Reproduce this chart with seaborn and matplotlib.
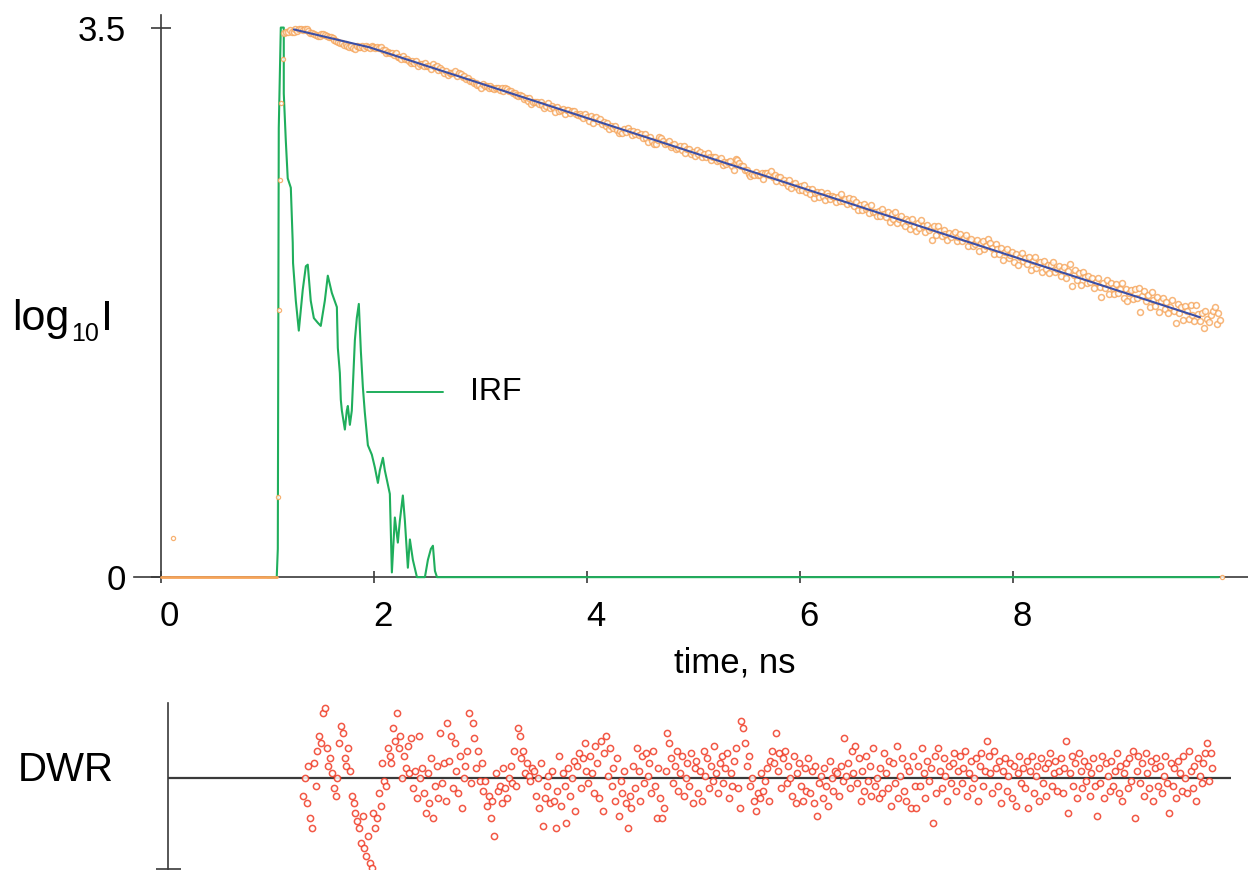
import numpy as np
import matplotlib
matplotlib.use("Agg")
import matplotlib.pyplot as plt
from matplotlib.transforms import ScaledTranslation
import seaborn as sns

# ---------------- data ----------------
X_TICKS = [0, 2, 4, 6, 8]
X_TICK_LABELS = ["0", "2", "4", "6", "8"]
Y_TICKS = [0, 3.5]
Y_TICK_LABELS = ["0", "3.5"]

# instrument response function (log10 counts)
IRF_T = [1.00, 1.089, 1.099, 1.108, 1.127, 1.155, 1.155, 1.174, 1.192, 1.221,
         1.239, 1.242, 1.268, 1.296, 1.333, 1.362, 1.380, 1.408, 1.437, 1.474,
         1.502, 1.540, 1.568, 1.606, 1.653, 1.662, 1.681, 1.690, 1.700, 1.728,
         1.746, 1.756, 1.775, 1.793, 1.822, 1.840, 1.859, 1.878, 1.897, 1.915,
         1.944, 1.981, 2.009, 2.038, 2.056, 2.085, 2.103, 2.122, 2.150, 2.169,
         2.197, 2.225, 2.244, 2.272, 2.291, 2.319, 2.338, 2.366, 2.404, 2.479,
         2.507, 2.535, 2.554, 2.573, 2.592, 9.925]
IRF_Y = [0, 0, 0.18, 2.86, 3.50, 3.50, 3.08, 2.78, 2.54, 2.48,
         2.13, 2.00, 1.76, 1.57, 1.83, 1.98, 1.99, 1.76, 1.65, 1.62,
         1.60, 1.76, 1.92, 1.81, 1.72, 1.46, 1.30, 1.13, 1.06, 0.94,
         1.06, 1.09, 0.97, 1.06, 1.51, 1.65, 1.74, 1.44, 1.21, 1.05,
         0.84, 0.78, 0.70, 0.60, 0.68, 0.76, 0.68, 0.62, 0.53, 0.03,
         0.38, 0.22, 0.36, 0.52, 0.36, 0.06, 0.24, 0.11, 0, 0,
         0.11, 0.18, 0.20, 0.04, 0, 0]

# fitted decay (log10 I) knots
FIT_T = [1.16, 1.25, 1.96, 9.75, 9.94]
FIT_Y = [3.47, 3.488, 3.374, 1.655, 1.613]
FIT_RANGE = (1.25, 9.75)

# decay data outside the fitted window
EDGE_T = [1.10, 1.11, 1.12, 1.13, 1.145]
EDGE_Y = [0.51, 1.70, 2.53, 3.02, 3.30]
STRAY_T = [0.12, 9.96]
STRAY_Y = [0.25, 0.0]
BASE_T = [0.0, 1.09]
BASE_Y = [0.0, 0.0]

# data channels in the fitted window
RES_T_RANGE = (1.16, 9.94)

# weighted residuals (DWR), read left to right
DWR = [
    -0.7, 0.0, -1.0, 0.5, -1.6, -2.0, 0.6, -0.3, 1.1, 1.7, 1.4, 2.6, 2.8, 1.2, 0.5, 0.8, 0.2, -0.4, -0.7, 0.0,
    1.4, 2.1, 1.8, 0.8, 0.5, 1.2, 0.3, -0.7, -1.0, -1.4, -1.7, -2.0, -2.6, -1.5, -2.8, -3.1, -2.3, -3.4, -3.6, -1.4,
    -2.0, -1.6, -0.6, -1.1, 0.6, -0.1, -0.3, 1.2, 0.9, 0.6, 2.0, 1.5, 2.6, 1.2, 1.7, 0.0, 0.9, 0.4, 1.3, 0.2,
    1.6, -0.4, 0.3, -0.8, 1.7, 0.0, 0.4, -0.6, -1.4, 0.2, -1.0, 0.8, -1.6, -0.3, 0.5, -0.8, 1.8, -0.2, 0.6, -0.9,
    2.2, 0.7, 1.7, -0.4, 1.4, 0.3, -0.6, 0.9, -1.2, 0.0, 0.5, 1.1, 2.6, -0.2, 2.2, 1.6, 0.4, 1.1, -0.1, 0.6,
    -0.5, -0.1, -1.1, -0.7, -1.6, -0.9, -2.3, 0.2, -0.5, -0.3, -1.0, 0.4, -0.4, -0.8, 0.0, 0.5, -0.2, 1.1, -0.3, 2.0,
    1.7, 0.8, 1.1, 0.2, 0.6, 0.1, -0.1, 0.4, 0.3, -0.7, 0.0, -1.2, 0.6, -1.9, -0.8, -0.3, 0.1, -1.0, 0.3, -0.9,
    -2.0, -0.5, 0.9, -1.1, 0.2, -0.3, -1.8, 0.4, -0.7, 0.0, 0.7, -1.3, 0.5, 1.0, -0.4, 0.8, 1.4, 0.3, -0.2, 0.9,
    0.2, -0.6, 1.3, 0.6, -0.8, 1.5, -1.3, 1.0, 1.7, 0.1, 1.2, -0.3, 0.4, -0.9, 0.8, -1.5, -0.1, -0.6, 0.3, -1.0,
    -2.0, -0.7, -1.2, 0.5, -0.4, 1.2, 0.3, -0.9, 0.9, -0.2, 1.0, 0.1, 0.6, -0.6, 1.1, -0.3, -1.6, 0.4, -0.8, -1.6,
    -1.2, 0.3, 1.8, 1.4, 0.8, -0.2, 0.5, 1.1, -0.5, 0.2, 0.9, -0.7, 0.0, 0.6, -0.3, 1.0, -1.0, 0.4, 0.7, -0.6,
    0.3, -0.9, 1.1, 0.1, 0.8, -0.4, 0.5, -0.1, 1.3, 0.2, -0.6, 0.6, 0.9, -0.2, 0.4, 1.0, -0.8, 0.2, -0.3, 0.7,
    1.2, -0.4, -1.2, 2.3, 2.0, 1.4, 0.5, 0.9, -0.3, 0.0, -0.9, -1.3, -0.6, -0.8, 0.2, -0.5, -0.1, 0.4, -0.9, 0.7,
    1.1, 0.6, 1.8, 0.3, 1.0, -0.4, 0.8, 1.1, -0.2, 0.5, 0.0, -0.7, 0.9, -1.0, 0.2, 0.6, -0.3, -0.9, 0.4, -0.5,
    0.8, -0.6, 0.3, -1.0, 0.5, -1.5, -0.2, 0.1, -0.8, 0.4, -0.3, -1.1, 0.7, 0.0, -0.5, 0.3, 0.2, -0.7, 0.5, -0.1,
    1.6, 0.1, 0.6, -0.4, 1.1, 0.2, 1.3, -0.2, 0.8, -0.9, 0.3, -0.5, 0.9, -0.1, 0.5, -0.7, 1.2, -0.3, 0.0, -0.8,
    0.4, -0.6, 1.0, 0.2, -0.4, 0.7, -1.1, 0.6, -0.2, 1.3, -0.8, 0.1, 0.8, -0.5, -0.9, 0.5, 0.3, -1.2, 0.9, -0.3,
    -1.2, 0.5, -0.3, 1.2, 0.2, -0.8, 0.7, -0.1, 0.4, -1.8, 0.9, -0.6, 1.2, 0.3, -0.4, 0.8, 0.1, -0.9, 0.5, -0.2,
    0.6, 1.0, -0.5, 0.3, 0.9, -0.2, 0.4, 1.1, -0.7, 0.2, 0.7, -0.4, 0.0, 0.8, -0.9, 0.5, 1.0, -0.3, 0.3, 1.5,
    0.9, 0.2, -0.6, 1.1, 0.4, -0.3, 0.7, -1.0, 0.3, 0.8, -0.5, 0.1, 0.6, -0.8, 0.5, -1.1, 0.2, 0.9, -0.2, 0.4,
    -0.4, 0.7, -1.2, 0.3, 0.9, -0.6, 0.1, 0.5, -0.9, 0.8, -0.2, 0.4, -0.7, 0.6, 1.0, -0.3, 0.2, 0.7, -0.5, 0.3,
    0.8, -0.6, 0.4, 1.5, -1.4, 0.2, 0.9, -0.3, 0.6, -0.8, 1.0, 0.3, -0.4, 0.7, -0.1, 0.5, -0.7, 0.2, 0.8, -0.3,
    -1.5, 0.4, -0.2, 0.9, -0.8, 0.6, 0.1, -0.5, 0.7, -0.3, 0.3, 1.0, -0.6, 0.5, -0.9, 0.2, 0.6, -0.4, 0.8, -0.1,
    1.1, -1.6, 0.3, 0.9, -0.2, 0.6, -0.7, 1.0, 0.2, -0.4, 0.7, -0.9, 0.4, 0.8, -0.3, 0.5, -0.6, 0.1, 0.9, -0.2,
    -1.4, 0.6, -0.3, 0.4, -0.8, 0.7, 0.2, -0.5, 0.9, 0.0, -0.6, 1.1, 0.3, -0.4, 0.5, -0.9, 0.8, 0.1, -0.2, 0.6,
    1.0, 1.4, -0.1, 1.0, 0.4,
]

# ---------------- style ----------------
ORANGE = "#f6a459"
GREEN = "#1fae5c"
BLUE = "#3a4ea6"
RED = "#f03a24"
AXIS = "#3a3a3a"

sns.set_style("white")
plt.rcParams["font.family"] = ["Liberation Sans", "DejaVu Sans"]
plt.rcParams["text.color"] = "black"
plt.rcParams["xtick.color"] = "black"
plt.rcParams["ytick.color"] = "black"

W, H = 1248, 871
fig = plt.figure(figsize=(W / 100, H / 100), dpi=100)

# derived channel data
res_t = np.linspace(RES_T_RANGE[0], RES_T_RANGE[1], len(DWR))
dwr = np.array(DWR)
fit_at = np.interp(res_t, FIT_T, FIT_Y)
sigma_log = 1.0 / (np.log(10) * np.sqrt(10 ** fit_at))
decay = fit_at + dwr * sigma_log

# ---------------- top panel ----------------
ax = fig.add_axes([134 / W, 1 - 585 / H, (W - 134) / W, 570 / H])
ax.set_xlim(-0.25, 10.2)
ax.set_ylim(-0.05, 3.58)

sns.lineplot(x=BASE_T, y=BASE_Y, ax=ax, color=ORANGE, lw=2.0, zorder=4)
sns.lineplot(x=IRF_T, y=IRF_Y, ax=ax, sort=False, estimator=None,
             color=GREEN, lw=1.5, zorder=3)
sns.scatterplot(x=res_t, y=decay, ax=ax, marker="o", s=18,
                facecolor="white", edgecolor=ORANGE, linewidth=1.1,
                alpha=0.8, zorder=5)
sns.scatterplot(x=EDGE_T + STRAY_T, y=EDGE_Y + STRAY_Y, ax=ax, marker="o", s=9,
                facecolor="white", edgecolor=ORANGE, linewidth=0.9,
                alpha=0.85, zorder=5, clip_on=False)
fmask = (np.array(FIT_T) >= FIT_RANGE[0]) & (np.array(FIT_T) <= FIT_RANGE[1])
sns.lineplot(x=np.array(FIT_T)[fmask], y=np.array(FIT_Y)[fmask], ax=ax,
             sort=False, estimator=None, color=BLUE, lw=1.5, zorder=6)

# IRF label
IRF_LEADER_T = [1.934, 2.648]
IRF_LEADER_Y = [1.178, 1.178]
ax.plot(IRF_LEADER_T, IRF_LEADER_Y, color=GREEN, lw=1.4)
ax.text(2.90, 1.18, "IRF", fontsize=23, va="center", ha="left", color="black")

for s in ["top", "right"]:
    ax.spines[s].set_visible(False)
ax.spines["left"].set_position(("data", 0))
ax.spines["bottom"].set_position(("data", 0))
ax.spines["left"].set_bounds(0, 3.58)
for s in ["left", "bottom"]:
    ax.spines[s].set_color(AXIS)
    ax.spines[s].set_linewidth(1.2)
    ax.spines[s].set_zorder(1)

ax.set_xticks(X_TICKS)
ax.set_xticklabels(X_TICK_LABELS)
ax.set_yticks(Y_TICKS)
ax.set_yticklabels(Y_TICK_LABELS)
ax.tick_params(axis="x", bottom=True, direction="inout", length=8.6, width=1.2,
               color=AXIS, labelsize=25, pad=12, labelcolor="black")
ax.tick_params(axis="y", left=True, direction="inout", length=13.7, width=1.2,
               color=AXIS, labelsize=25, pad=18, labelcolor="black")
shift = ScaledTranslation(9 / 100, 0, fig.dpi_scale_trans)
for lab in ax.get_xticklabels():
    lab.set_transform(lab.get_transform() + shift)
ax.set_xlabel("")
ax.set_ylabel("")

fig.text(735 / W, 1 - 663 / H, "time, ns", fontsize=25, ha="center", va="center")

# y label "log10 I" built from three pieces (small subscript)
base_x, base_y = 12 / W, 1 - 330 / H
t1 = fig.text(base_x, base_y, "log", fontsize=31, ha="left", va="baseline")
fig.canvas.draw()
r = fig.canvas.get_renderer()
bb1 = t1.get_window_extent(r)
t2 = fig.text(bb1.x1 / W + 2 / W, base_y - 11 / H, "10", fontsize=18,
              ha="left", va="baseline")
bb2 = t2.get_window_extent(r)
fig.text(bb2.x1 / W + 2 / W, base_y, "I", fontsize=31, ha="left", va="baseline")

# ---------------- residual panel ----------------
ax2 = fig.add_axes([168 / W, 1 - 869 / H, (1231 - 168) / W, (869 - 703) / H])
ax2.set_xlim(-0.144, 10.12)
ax2.set_ylim(-3.64, 3.0)
ax2.axhline(0, color=AXIS, lw=1.6, zorder=1)
sns.scatterplot(x=res_t, y=dwr, ax=ax2, marker="o", s=20, facecolor="white",
                edgecolor=RED, linewidth=1.1, alpha=0.85, zorder=3)
for s in ["top", "right", "bottom"]:
    ax2.spines[s].set_visible(False)
ax2.spines["left"].set_color(AXIS)
ax2.spines["left"].set_linewidth(1.2)
ax2.set_xticks([])
ax2.set_yticks([-3.64])
ax2.set_yticklabels([""])
ax2.tick_params(axis="y", left=True, direction="inout", length=18, width=1.2,
                color=AXIS)
ax2.set_xlabel("")
ax2.set_ylabel("")
fig.text(18 / W, 1 - 770 / H, "DWR", fontsize=29, ha="left", va="center")

fig.savefig("out.png", dpi=100)
